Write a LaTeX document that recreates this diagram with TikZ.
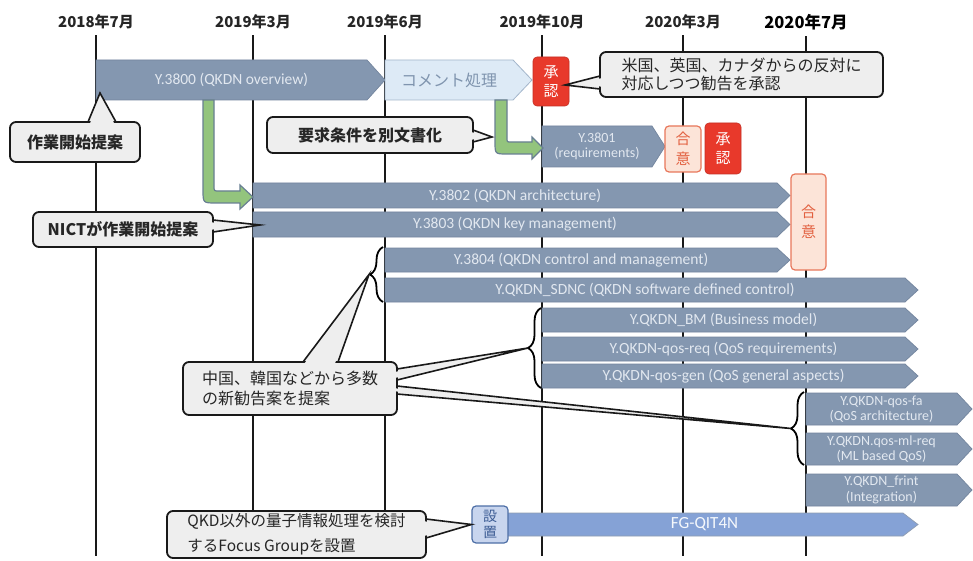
\documentclass[tikz,border=0pt]{standalone}
\usepackage{fontspec}
\setmainfont{Noto Sans CJK JP}
\newfontfamily\barfont{Carlito}
\usetikzlibrary{calc,decorations.pathreplacing}

\definecolor{barfill}{HTML}{8497B0}
\definecolor{barline}{HTML}{73859E}
\definecolor{bartext}{HTML}{E2E8F0}
\definecolor{cmtfill}{HTML}{DDEAF6}
\definecolor{cmtline}{HTML}{A3B6CB}
\definecolor{cmttext}{HTML}{7F94AE}
\definecolor{redbox}{HTML}{E8392B}
\definecolor{peachfill}{HTML}{FCE4D8}
\definecolor{peachline}{HTML}{E8775B}
\definecolor{peachtext}{HTML}{E2603F}
\definecolor{fgfill}{HTML}{85A2D6}
\definecolor{setfill}{HTML}{C8D5EE}
\definecolor{setline}{HTML}{4E6FA6}
\definecolor{settext}{HTML}{3C5C94}
\definecolor{callfill}{HTML}{EEEEEE}
\definecolor{greenfill}{HTML}{93C47D}
\definecolor{greenline}{HTML}{687F92}

\tikzset{
 vline/.style={line width=1.8pt, draw=black!90},
 yearlbl/.style={font=\bfseries\fontsize{15}{17}\selectfont, text=black!85, inner sep=0},
 barshape/.style={fill=barfill, draw=barline, line width=0.7pt},
 bartxt/.style={text=bartext, font=\barfont\fontsize{15.5}{17}\selectfont, inner sep=0, align=center},
 smalltxt/.style={text=bartext, font=\barfont\fontsize{14}{15.5}\selectfont, inner sep=0, align=center},
 cmtshape/.style={fill=cmtfill, draw=cmtline, line width=0.8pt},
 cmttxt/.style={text=cmttext, font=\fontsize{16}{18}\selectfont, inner sep=0},
 fgshape/.style={fill=fgfill, draw=barline!80, line width=0.7pt},
 fgtxt/.style={text=white!92!fgfill, font=\barfont\fontsize{17}{19}\selectfont, inner sep=0},
 redstamp/.style={fill=redbox, draw=redbox!85!black, line width=0.6pt, rounded corners=4pt, text=white, font=\fontsize{15}{19}\selectfont, align=center, inner sep=0},
 peachstamp/.style={fill=peachfill, draw=peachline, line width=1.2pt, rounded corners=4pt, text=peachtext, font=\fontsize{15}{20}\selectfont, align=center, inner sep=0},
 setstamp/.style={fill=setfill, draw=setline, line width=1.2pt, rounded corners=4pt, text=settext, font=\fontsize{14}{16}\selectfont, align=center, inner sep=0},
 callbox/.style={fill=callfill, draw=black!90, line width=1.8pt, rounded corners=6pt, inner sep=0, align=left, text=black!85},
 calltxt/.style={font=\fontsize{16}{19}\selectfont},
 callbold/.style={font=\bfseries\fontsize{16}{19}\selectfont},
 callptr/.style={fill=callfill, draw=black!90, line width=1.6pt, line join=miter},
 callpatch/.style={fill=callfill},
 greenarrow/.style={fill=greenfill, draw=greenline, line width=1.2pt},
 bracestyle/.style={draw=black, line width=1.8pt, decorate, decoration={brace, amplitude=13pt}},
}

\newcommand\pbar[9]{%
  \path[#2] (#4,#5) -- ({#6-#8},#5) -- (#6,{(#5+#7)/2}) -- ({#6-#8},#7) -- (#4,#7) -- cycle;
  \node[#3] (#1) at ({(#4+#6-#8)/2},{(#5+#7)/2}) {#9};}
\newcommand\ptrA[3]{\filldraw[callptr] (#1) -- (#3) -- (#2);}
\newcommand\ptrB[3]{\fill[callpatch] ($(#1)!2.5pt!(#2)!-2.5pt!(#3)$) -- ($(#1)!2.5pt!(#2)!3pt!(#3)$) -- ($(#2)!2.5pt!(#1)!3pt!(#3)$) -- ($(#2)!2.5pt!(#1)!-2.5pt!(#3)$) -- cycle;}

\begin{document}
\begin{tikzpicture}[x=1pt,y=-1pt]
\useasboundingbox[fill=white] (0,0) rectangle (973,561);
\coordinate (bot) at (0,556);

% year labels and time lines
\node[yearlbl] (y1) at (96,22) {2018年7月};
\node[yearlbl] (y2) at (253,22) {2019年3月};
\node[yearlbl] (y3) at (385,22) {2019年6月};
\node[yearlbl] (y4) at (542,22) {2019年10月};
\node[yearlbl] (y5) at (683,22) {2020年3月};
\node[yearlbl, text=black, font=\bfseries\fontsize{16.5}{18}\selectfont] (y6) at (806,22) {2020年7月};
\foreach \n in {y1,y2,y3,y4,y5,y6}
  \draw[vline] ([yshift=-6pt]\n.south) -- (\n.south |- bot);

% bars
\pbar{b3800}{barshape}{bartxt}{96}{60}{385}{100}{18}{Y.3800 (QKDN overview)}
\pbar{cmt}{cmtshape}{cmttxt}{385}{60}{532}{100}{19}{コメント処理}
\pbar{b3801}{barshape}{smalltxt}{542}{126}{665}{167}{13}{Y.3801\\(requirements)}
\pbar{b3802}{barshape}{bartxt}{253}{183}{790}{208}{13}{Y.3802 (QKDN architecture)}
\pbar{b3803}{barshape}{bartxt}{253}{212}{790}{237}{13}{Y.3803 (QKDN key management)}
\pbar{b3804}{barshape}{bartxt}{385}{248}{790}{272}{13}{Y.3804 (QKDN control and management)}
\pbar{bsdnc}{barshape}{bartxt}{385}{278}{918}{302}{13}{Y.QKDN\_SDNC (QKDN software defined control)}
\pbar{bbm}{barshape}{bartxt}{542}{308}{918}{332}{13}{Y.QKDN\_BM (Business model)}
\pbar{bqreq}{barshape}{bartxt}{542}{337}{918}{361}{13}{Y.QKDN-qos-req (QoS requirements)}
\pbar{bqgen}{barshape}{bartxt}{542}{364}{918}{388}{13}{Y.QKDN-qos-gen (QoS general aspects)}
\pbar{bqfa}{barshape}{smalltxt}{806}{393}{972}{425}{15}{Y.QKDN-qos-fa\\(QoS architecture)}
\pbar{bqml}{barshape}{smalltxt}{806}{433}{972}{465}{15}{Y.QKDN.qos-ml-req\\(ML based QoS)}
\pbar{bfrint}{barshape}{smalltxt}{806}{474}{972}{506}{15}{Y.QKDN\_frint\\(Integration)}
\pbar{bfg}{fgshape}{fgtxt}{506}{513}{918}{536}{15}{FG-QIT4N}

% stamps
\node[redstamp, minimum width=36pt, minimum height=49pt] (ap1) at (551,81.5) {承\\認};
\node[peachstamp, minimum width=36pt, minimum height=46pt] (ag1) at (683,149) {合\\意};
\node[redstamp, minimum width=36pt, minimum height=51pt] (ap2) at (723,148.5) {承\\認};
\node[peachstamp, minimum width=35pt, minimum height=96pt] (ag2) at (808.5,222) {合\\意};
\node[setstamp, minimum width=36pt, minimum height=37pt] (set) at (490,524.5) {設\\置};

% green arrows
\path[greenarrow] (203,100) -- (203,190) .. controls (203,203) .. (216,203) -- (240,203) -- (240,209) -- (253,197) -- (240,185) -- (240,191) -- (219,191) .. controls (214,191) .. (214,186) -- (214,100) -- cycle;
\path[greenarrow] (495,100) -- (495,142) .. controls (495,154) .. (507,154) -- (532,154) -- (532,159) -- (543,148) -- (532,137) -- (532,142) -- (511,142) .. controls (507,142) .. (507,138) -- (507,100) -- cycle;

% braces
\draw[bracestyle] (383,302) -- (383,247);
\draw[bracestyle] (541,388) -- (541,308);
\draw[bracestyle] (804,465) -- (804,392);
\coordinate (br1) at (369,274.5);
\coordinate (br2) at (528,348);
\coordinate (br3) at (791,428.5);

% callout 1
\coordinate (c1a) at (88,122); \coordinate (c1b) at (116,122); \coordinate (c1t) at (100,93);
\ptrA{c1a}{c1b}{c1t}
\node[callbox, callbold, minimum width=130pt, minimum height=40pt] (c1) at (75,142) {作業開始提案};
\ptrB{c1a}{c1b}{c1t}

% callout 2
\coordinate (c2a) at (213,220); \coordinate (c2b) at (213,232); \coordinate (c2t) at (260,225);
\ptrA{c2a}{c2b}{c2t}
\node[callbox, callbold, minimum width=180pt, minimum height=35pt] (c2) at (123,229.5) {NICTが作業開始提案};
\ptrB{c2a}{c2b}{c2t}

% callout 3
\coordinate (c3a) at (473,130); \coordinate (c3b) at (473,142); \coordinate (c3t) at (492,137);
\ptrA{c3a}{c3b}{c3t}
\node[callbox, callbold, minimum width=206pt, minimum height=36pt] (c3) at (370,135) {要求条件を別文書化};
\ptrB{c3a}{c3b}{c3t}

% callout 4
\coordinate (c4a) at (600,76); \coordinate (c4b) at (600,89); \coordinate (c4t) at (565,85);
\ptrA{c4a}{c4b}{c4t}
\node[callbox, calltxt, font=\fontsize{16}{18}\selectfont, minimum width=283pt, minimum height=45pt] (c4) at (741.5,74.5) {米国、英国、カナダからの反対に\\対応しつつ勧告を承認};
\ptrB{c4a}{c4b}{c4t}

% callout 5
\coordinate (w1a) at (303,362); \coordinate (w1b) at (338,362);
\coordinate (w2a) at (397,369); \coordinate (w2b) at (397,380);
\coordinate (w3a) at (397,386); \coordinate (w3b) at (397,394);
\ptrA{w1a}{w1b}{br1}
\ptrA{w2a}{w2b}{br2}
\ptrA{w3a}{w3b}{br3}
\node[callbox, calltxt, font=\fontsize{16}{20}\selectfont, minimum width=214pt, minimum height=53pt] (c5) at (290,388.5) {中国、韓国などから多数\\の新勧告案を提案};
\ptrB{w1a}{w1b}{br1}
\ptrB{w2a}{w2b}{br2}
\ptrB{w3a}{w3b}{br3}

% callout 6
\coordinate (c6a) at (426,519); \coordinate (c6b) at (426,538); \coordinate (c6t) at (set.west);
\ptrA{c6a}{c6b}{c6t}
\node[callbox, calltxt, font=\fontsize{15.5}{25}\selectfont, minimum width=259pt, minimum height=47pt] (c6) at (296.5,534.5) {QKD以外の量子情報処理を検討\\するFocus Groupを設置};
\ptrB{c6a}{c6b}{c6t}
\end{tikzpicture}
\end{document}
